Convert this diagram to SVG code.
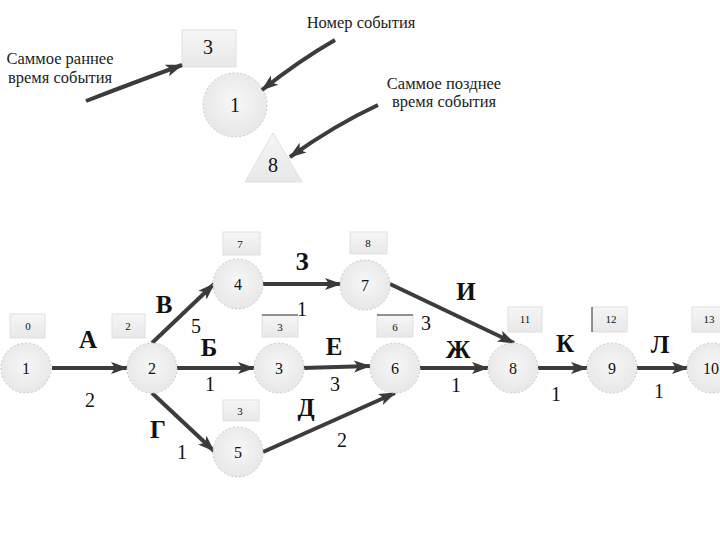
<svg xmlns="http://www.w3.org/2000/svg" width="720" height="540" viewBox="0 0 720 540">
<defs>
<radialGradient id="cg" cx="50%" cy="45%" r="60%"><stop offset="0" stop-color="#f7f7f7"/><stop offset="1" stop-color="#e6e6e6"/></radialGradient>
<linearGradient id="bg" x1="0" y1="0" x2="0" y2="1"><stop offset="0" stop-color="#f6f6f6"/><stop offset="1" stop-color="#e8e8e8"/></linearGradient>
<marker id="ah" markerUnits="userSpaceOnUse" markerWidth="18" markerHeight="14" refX="16" refY="7" orient="auto"><path d="M0,1 L17,7 L0,13 L4,7 Z" fill="#3a3a3a"/></marker>
</defs>
<style>
.c{fill:url(#cg);stroke:#c8c8c8;stroke-width:1;stroke-dasharray:2 2}
.b{fill:url(#bg);stroke:#e0e0e0;stroke-width:1}
.e{stroke:#3c3c3c;stroke-width:4;fill:none;marker-end:url(#ah)}
.t{font-family:"Liberation Serif","Times New Roman",serif;fill:#111;text-anchor:middle}
.n{font-size:16px}
.s{font-size:11px}
.L{font-size:25px;font-weight:bold}
.w{font-size:20px}
.lg{font-size:16.5px;fill:#222}
</style>
<rect width="720" height="540" fill="#fff"/>

<g id="legend">
<rect class="b" x="182" y="30" width="54" height="37"/>
<text class="t" x="208" y="54" font-size="20">3</text>
<circle class="c" cx="235" cy="105" r="32"/>
<text class="t" x="235" y="112" font-size="20">1</text>
<polygon points="273,133 302,182 245,182" fill="url(#bg)" stroke="#e0e0e0"/>
<text class="t" x="273" y="172" font-size="20">8</text>
<text class="t lg" x="60" y="64">Саммое раннее</text>
<text class="t lg" x="60" y="83">время события</text>
<text class="t lg" x="361" y="28">Номер события</text>
<text class="t lg" x="444" y="89">Саммое позднее</text>
<text class="t lg" x="444" y="107">время события</text>
<path class="e" d="M86,101 Q130,84 182,65"/>
<path class="e" d="M335,40 Q300,60 262,90"/>
<path class="e" d="M378,105 Q335,125 290,157"/>
</g>

<g id="connectors">
<line class="e" x1="52" y1="368" x2="127" y2="368"/>
<line class="e" x1="152" y1="343" x2="214" y2="284"/>
<line class="e" x1="177" y1="368" x2="254" y2="368"/>
<line class="e" x1="152" y1="393" x2="214" y2="451"/>
<line class="e" x1="263" y1="284" x2="341" y2="284"/>
<line class="e" x1="303" y1="368" x2="370" y2="366"/>
<line class="e" x1="263" y1="452" x2="395" y2="393"/>
<line class="e" x1="390" y1="284" x2="514" y2="343"/>
<line class="e" x1="420" y1="368" x2="488" y2="368"/>
<line class="e" x1="538" y1="368" x2="587" y2="368"/>
<line class="e" x1="637" y1="368" x2="688" y2="368"/>
</g>

<g id="labels">
<text class="t L" x="88" y="348">А</text><text class="t w" x="90" y="407">2</text>
<text class="t L" x="164" y="313">В</text><text class="t w" x="196" y="333">5</text>
<text class="t L" x="209" y="356">Б</text><text class="t w" x="210" y="391">1</text>
<text class="t L" x="158" y="438">Г</text><text class="t w" x="182" y="459">1</text>
<text class="t L" x="302" y="270">З</text><text class="t w" x="302" y="316">1</text>
<text class="t L" x="334" y="355">Е</text><text class="t w" x="335" y="391">3</text>
<text class="t L" x="306" y="416">Д</text><text class="t w" x="342" y="447">2</text>
<text class="t L" x="466" y="300">И</text><text class="t w" x="426" y="330">3</text>
<text class="t L" x="458" y="358">Ж</text><text class="t w" x="456" y="392">1</text>
<text class="t L" x="565" y="352">К</text><text class="t w" x="556" y="401">1</text>
<text class="t L" x="660" y="353">Л</text><text class="t w" x="659" y="398">1</text>
</g>

<g id="n1"><rect class="b" x="10" y="314" width="35" height="24"/><text class="t s" x="28" y="330">0</text><circle class="c" cx="26" cy="368" r="25"/><text class="t n" x="26" y="374">1</text></g>
<g id="n2"><rect class="b" x="112" y="314" width="33" height="24"/><text class="t s" x="128" y="330">2</text><circle class="c" cx="152" cy="368" r="25"/><text class="t n" x="152" y="374">2</text></g>
<g id="n4"><rect class="b" x="223" y="232" width="37" height="23"/><text class="t s" x="240" y="248">7</text><circle class="c" cx="238" cy="284" r="25"/><text class="t n" x="238" y="290">4</text></g>
<g id="n3"><rect class="b" x="262" y="315" width="36" height="22"/><line x1="262" y1="315" x2="298" y2="315" stroke="#333"/><text class="t s" x="280" y="331">3</text><circle class="c" cx="279" cy="368" r="25"/><text class="t n" x="279" y="374">3</text></g>
<g id="n5"><rect class="b" x="223" y="400" width="36" height="21"/><text class="t s" x="240" y="415">3</text><circle class="c" cx="238" cy="452" r="25"/><text class="t n" x="238" y="458">5</text></g>
<g id="n7"><rect class="b" x="350" y="232" width="37" height="22"/><text class="t s" x="368" y="247">8</text><circle class="c" cx="365" cy="285" r="25"/><text class="t n" x="365" y="291">7</text></g>
<g id="n6"><rect class="b" x="377" y="315" width="36" height="22"/><line x1="377" y1="315" x2="413" y2="315" stroke="#333"/><text class="t s" x="395" y="331">6</text><circle class="c" cx="395" cy="368" r="25"/><text class="t n" x="395" y="374">6</text></g>
<g id="n8"><rect class="b" x="508" y="307" width="34" height="25"/><text class="t s" x="525" y="323">11</text><circle class="c" cx="513" cy="368" r="25"/><text class="t n" x="513" y="374">8</text></g>
<g id="n9"><rect class="b" x="592" y="307" width="35" height="25"/><line x1="592" y1="307" x2="592" y2="332" stroke="#333"/><text class="t s" x="611" y="323">12</text><circle class="c" cx="612" cy="368" r="25"/><text class="t n" x="612" y="374">9</text></g>
<g id="n10"><rect class="b" x="692" y="307" width="34" height="25"/><text class="t s" x="709" y="323">13</text><circle class="c" cx="712" cy="368" r="25"/><text class="t n" x="711" y="374">10</text></g>
</svg>
